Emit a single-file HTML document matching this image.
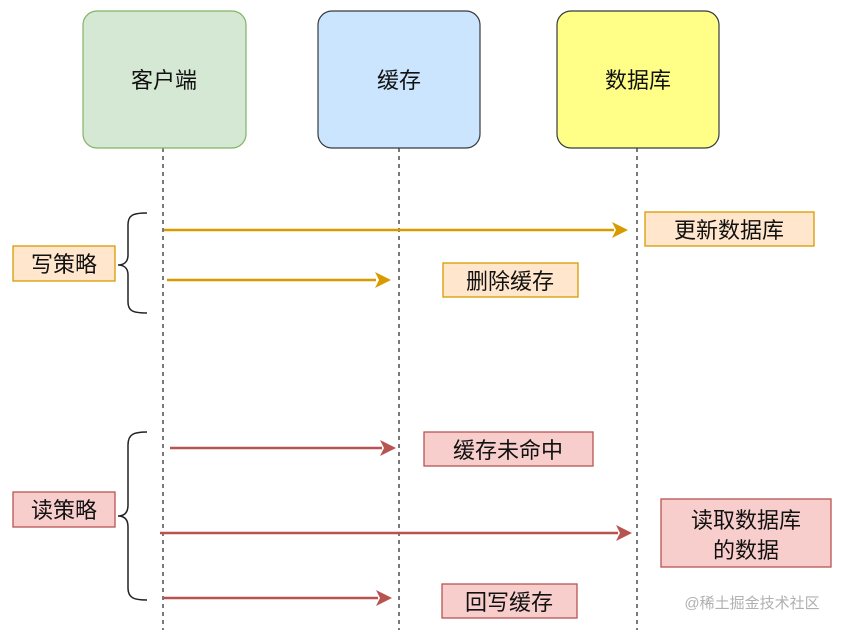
<!DOCTYPE html>
<html><head><meta charset="utf-8"><style>
html,body{margin:0;padding:0;background:#fff;}
svg{display:block;font-family:"Liberation Sans","Noto Sans CJK SC",sans-serif;}
</style></head><body>
<svg width="852" height="630" viewBox="0 0 852 630" xmlns="http://www.w3.org/2000/svg">
<defs>
<marker id="ag" markerWidth="10" markerHeight="10" refX="9" refY="5" orient="auto" markerUnits="userSpaceOnUse"><path d="M0,0 L10,5 L0,10 L3,5 Z" fill="#d79b00"/></marker>
</defs>
<!-- lifelines -->
<g stroke="#333" stroke-width="1.3" stroke-dasharray="4,4">
<line x1="163" y1="148" x2="163" y2="630"/>
<line x1="399" y1="148" x2="399" y2="630"/>
<line x1="637" y1="148" x2="637" y2="630"/>
</g>
<!-- header boxes -->
<rect x="83" y="11" width="163" height="137" rx="14" fill="#d5e8d4" stroke="#82b366" stroke-width="1.2"/>
<rect x="318" y="11" width="162" height="137" rx="14" fill="#cce5ff" stroke="#36393d" stroke-width="1.2"/>
<rect x="557" y="11" width="162" height="137" rx="14" fill="#ffff88" stroke="#36393d" stroke-width="1.2"/>
<g font-size="22" fill="#111" text-anchor="middle">
<text x="164" y="88">客户端</text>
<text x="399" y="88">缓存</text>
<text x="638" y="88">数据库</text>
</g>
<!-- write arrows -->
<g stroke="#d79b00" stroke-width="2.5" fill="#d79b00">
<line x1="164" y1="230" x2="614" y2="230"/>
<line x1="167" y1="280" x2="376" y2="280"/>
</g>
<path d="M628,230 L612,222 L616,230 L612,238 Z" fill="#d79b00"/>
<path d="M391,280 L375,272 L379,280 L375,288 Z" fill="#d79b00"/>
<!-- read arrows -->
<g stroke="#b85450" stroke-width="2.5">
<line x1="170" y1="448" x2="382" y2="448"/>
<line x1="160" y1="533" x2="618" y2="533"/>
<line x1="163" y1="598" x2="378" y2="598"/>
</g>
<g fill="#b85450">
<path d="M396,448 L380,440 L384,448 L380,456 Z"/>
<path d="M632,533 L616,525 L620,533 L616,541 Z"/>
<path d="M392,598 L376,590 L380,598 L376,606 Z"/>
</g>
<!-- braces -->
<path d="M147,213 C133,213 128,215 128,225 L128,255 C128,262 124,265 118,265 C124,265 128,268 128,275 L128,302 C128,311 133,313 147,313" fill="none" stroke="#222" stroke-width="1.5"/>
<path d="M147,432 C134,432 128,434 128,445 L128,505 C128,513 124,516 118,516 C124,516 128,519 128,527 L128,588 C128,598 134,600 147,600" fill="none" stroke="#222" stroke-width="1.5"/>
<!-- write labels -->
<g fill="#ffe6cc" stroke="#d79b00" stroke-width="1.3">
<rect x="13" y="246" width="102" height="35"/>
<rect x="645" y="212" width="169" height="34"/>
<rect x="443" y="263" width="135" height="34"/>
</g>
<!-- read labels -->
<g fill="#f8cecc" stroke="#b85450" stroke-width="1.3">
<rect x="13" y="492" width="102" height="35"/>
<rect x="424" y="432" width="169" height="34"/>
<rect x="661" y="499" width="170" height="68"/>
<rect x="442" y="584" width="135" height="34"/>
</g>
<g font-size="22" fill="#111" text-anchor="middle">
<text x="64" y="272">写策略</text>
<text x="729" y="238">更新数据库</text>
<text x="510" y="289">删除缓存</text>
<text x="64" y="518">读策略</text>
<text x="508" y="458">缓存未命中</text>
<text x="746" y="528">读取数据库</text>
<text x="746" y="558">的数据</text>
<text x="509" y="610">回写缓存</text>
</g>
<text x="752" y="608" font-size="15" fill="#b0b0b0" text-anchor="middle">@稀土掘金技术社区</text>
</svg>
</body></html>
